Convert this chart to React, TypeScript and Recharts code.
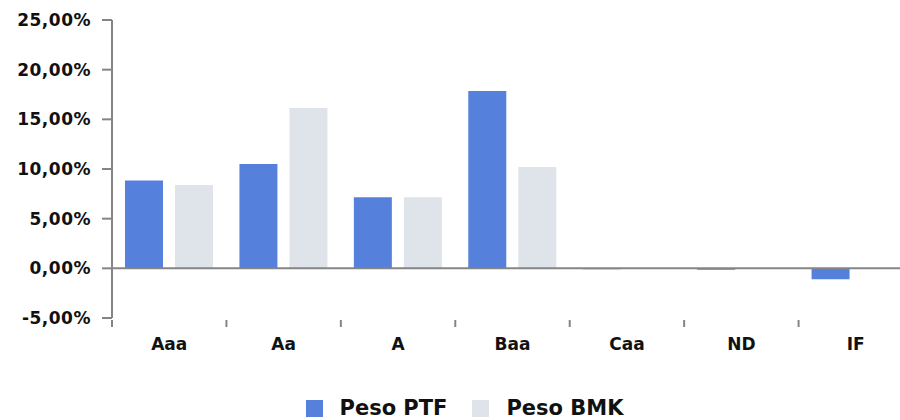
import { BarChart, Bar, XAxis, YAxis, ReferenceLine, Legend } from 'recharts';

document.body.style.margin = '0';
document.body.style.overflow = 'hidden';

// rating buckets and weights (%)
const categories = ['Aaa', 'Aa', 'A', 'Baa', 'Caa', 'ND', 'IF'];
const pesoPtf = [8.85, 10.5, 7.15, 17.85, -0.1, -0.15, -1.1];
const pesoBmk = [8.4, 16.15, 7.15, 10.2, 0, 0, 0];
const yTicks = [-5, 0, 5, 10, 15, 20, 25];

const data = categories.map((c, i) => ({ name: c, ptf: pesoPtf[i], bmk: pesoBmk[i] }));

const CHART_W = 913;
const AXIS_W = 112;
const BAND = (CHART_W - AXIS_W) / categories.length;

const PTF_COLOR = '#5580dc';
const BMK_COLOR = '#dfe3ea';
const AXIS_COLOR = '#858585';
const FONT = '"DejaVu Sans", Verdana, sans-serif';

const fmt = (v: number) => v.toFixed(2).replace('.', ',') + '%';

function CategoryTick(props: any) {
  const { x, y, payload } = props;
  const left = x - BAND / 2;
  return (
    <g>
      <line x1={left} x2={left} y1={y + 2} y2={y + 9} stroke={AXIS_COLOR} strokeWidth={2} />
      <text x={x} y={y + 32} textAnchor="middle" fontFamily={FONT} fontWeight="bold" fontSize={17} fill="#111">
        {payload.value}
      </text>
    </g>
  );
}

function LegendContent() {
  const items = [
    { label: 'Peso PTF', color: PTF_COLOR },
    { label: 'Peso BMK', color: BMK_COLOR },
  ];
  return (
    <div style={{ height: 42, width: 900, display: 'flex', justifyContent: 'center', alignItems: 'flex-end' }}>
      <div style={{ display: 'flex', alignItems: 'center', height: 24, marginLeft: 54 }}>
        {items.map((it) => (
          <div key={it.label} style={{ display: 'flex', alignItems: 'center', marginRight: 25 }}>
            <div style={{ width: 17, height: 17, background: it.color, marginRight: 17 }} />
            <span style={{ fontFamily: FONT, fontWeight: 'bold', fontSize: 21, color: '#111' }}>{it.label}</span>
          </div>
        ))}
      </div>
    </div>
  );
}

export default function App() {
  return (
    <BarChart
      width={CHART_W}
      height={420}
      data={data}
      margin={{ top: 20, right: 0, left: 0, bottom: 0 }}
      barCategoryGap={13}
      barGap={12}
    >
      <XAxis
        dataKey="name"
        axisLine={false}
        tickLine={false}
        tickSize={0}
        tickMargin={0}
        height={60}
        interval={0}
        tick={<CategoryTick />}
      />
      <YAxis
        width={AXIS_W}
        domain={[-5, 25]}
        ticks={yTicks}
        tickFormatter={fmt}
        axisLine={{ stroke: AXIS_COLOR, strokeWidth: 2 }}
        tickLine={{ stroke: AXIS_COLOR, strokeWidth: 2 }}
        tickSize={10}
        tickMargin={11}
        tick={{ fontFamily: FONT, fontWeight: 'bold', fontSize: 17, fill: '#111', letterSpacing: 0.5 }}
      />
      <ReferenceLine y={0} stroke={AXIS_COLOR} strokeWidth={2} />
      <Bar dataKey="ptf" name="Peso PTF" fill={PTF_COLOR} isAnimationActive={false} />
      <Bar dataKey="bmk" name="Peso BMK" fill={BMK_COLOR} isAnimationActive={false} />
      <Legend verticalAlign="bottom" content={<LegendContent />} wrapperStyle={{ left: 0, width: 900 }} />
    </BarChart>
  );
}
